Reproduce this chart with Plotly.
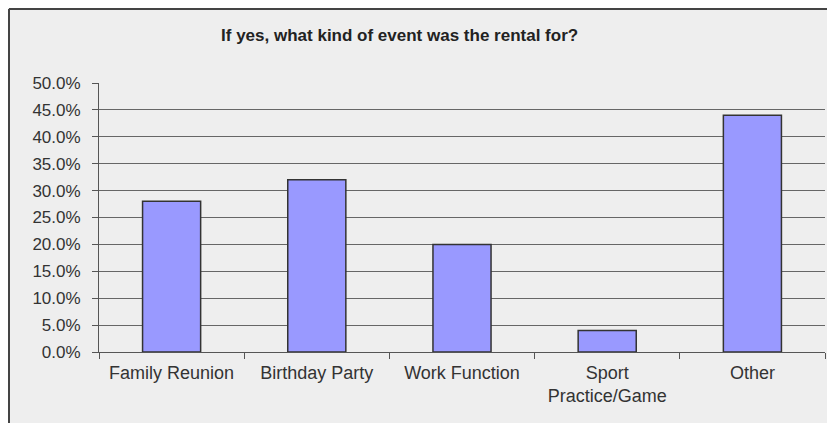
import plotly.graph_objects as go

categories = ["Family Reunion", "Birthday Party", "Work Function",
              "Sport<br>Practice/Game", "Other"]
shares = [0.28, 0.32, 0.20, 0.04, 0.44]

tick_vals = [i * 0.05 for i in range(11)]
tick_text = ["%.1f%%" % (v * 100) for v in tick_vals]

fig = go.Figure()

fig.add_trace(go.Bar(
    x=categories,
    y=shares,
    width=0.4,
    marker=dict(color="#9999FF", line=dict(color="#333333", width=1.5)),
    hoverinfo="x+y",
))

# dark top/left frame of the chart box
left = -90 / 726
top = 1 + 74 / 269
fig.add_shape(type="line", xref="paper", yref="paper",
              x0=left, x1=1.1, y0=top, y1=top,
              line=dict(color="#444444", width=2), layer="below")
fig.add_shape(type="line", xref="paper", yref="paper",
              x0=left, x1=left, y0=-0.4, y1=top,
              line=dict(color="#444444", width=2), layer="below")

fig.update_layout(
    width=835, height=423,
    margin=dict(l=91, r=18, t=75, b=79),
    paper_bgcolor="#EEEEEE",
    plot_bgcolor="rgba(0,0,0,0)",
    showlegend=False,
    bargap=0.6,
    title=dict(
        text="<b>If yes, what kind of event was the rental for?</b>",
        x=0.469, xanchor="center", y=0.936, yanchor="middle",
        font=dict(family="Liberation Sans, Arial", size=17, color="#222222"),
    ),
)

fig.update_yaxes(
    range=[0, 0.5],
    tickvals=tick_vals, ticktext=tick_text,
    ticks="outside", ticklen=6, tickcolor="#555555",
    ticklabelstandoff=8,
    showgrid=True, gridcolor="#666666", gridwidth=1,
    showline=True, linecolor="#555555", linewidth=1,
    zeroline=False,
    tickfont=dict(family="Liberation Sans, Arial", size=17, color="#333333"),
)

fig.update_xaxes(
    showline=True, linecolor="#555555", linewidth=1,
    ticks="outside", ticklen=6, tickcolor="#555555",
    tickson="boundaries",
    ticklabelstandoff=4,
    tickfont=dict(family="Liberation Sans, Arial", size=18, color="#333333"),
)

fig.write_html("out.html")
